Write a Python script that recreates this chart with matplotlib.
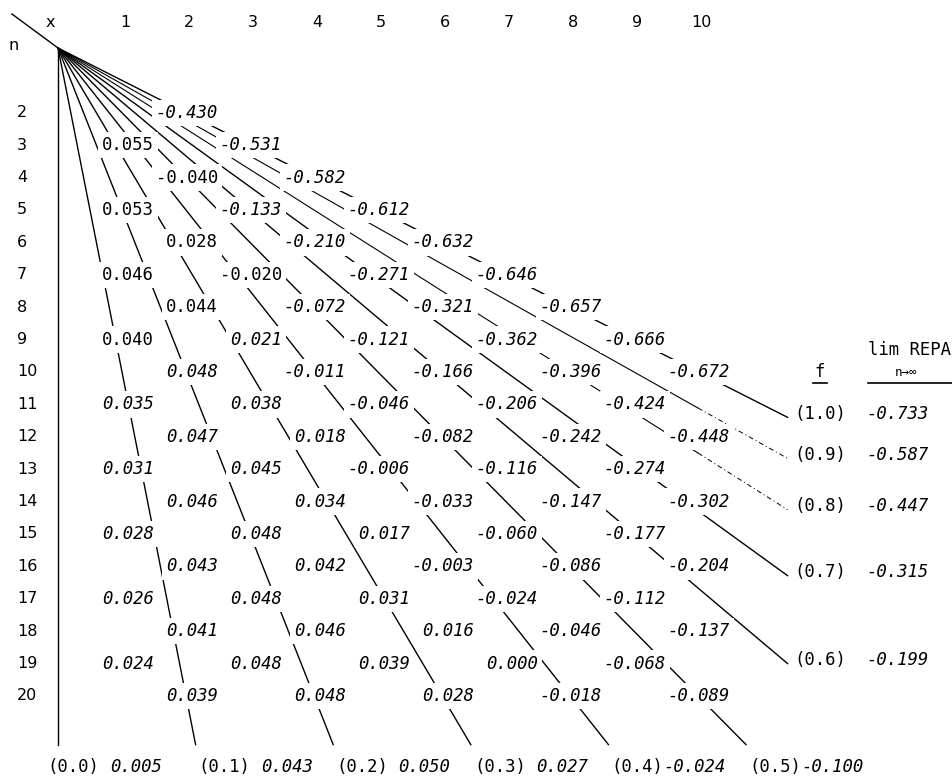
import numpy as np
import matplotlib.pyplot as plt

# REPA values, one list per row n; columns x start at 1 or 2 (same parity as n), step 2
rows = list(range(2, 21))
row_values = [
    [-0.430],
    [0.055, -0.531],
    [-0.040, -0.582],
    [0.053, -0.133, -0.612],
    [0.028, -0.210, -0.632],
    [0.046, -0.020, -0.271, -0.646],
    [0.044, -0.072, -0.321, -0.657],
    [0.040, 0.021, -0.121, -0.362, -0.666],
    [0.048, -0.011, -0.166, -0.396, -0.672],
    [0.035, 0.038, -0.046, -0.206, -0.424],
    [0.047, 0.018, -0.082, -0.242, -0.448],
    [0.031, 0.045, -0.006, -0.116, -0.274],
    [0.046, 0.034, -0.033, -0.147, -0.302],
    [0.028, 0.048, 0.017, -0.060, -0.177],
    [0.043, 0.042, -0.003, -0.086, -0.204],
    [0.026, 0.048, 0.031, -0.024, -0.112],
    [0.041, 0.046, 0.016, -0.046, -0.137],
    [0.024, 0.048, 0.039, 0.000, -0.068],
    [0.039, 0.048, 0.028, -0.018, -0.089],
]
upright_cells = [(3, 1), (4, 2), (5, 1), (6, 2), (7, 1), (7, 3), (8, 2), (9, 1)]

columns = list(range(1, 11))

# f lines ending at the bottom, and their limits
f_bottom = [0.0, 0.1, 0.2, 0.3, 0.4, 0.5]
lim_bottom = [0.005, 0.043, 0.050, 0.027, -0.024, -0.100]
# f lines ending at the right
f_right = [1.0, 0.9, 0.8, 0.7, 0.6]
lim_right = [-0.733, -0.587, -0.447, -0.315, -0.199]

# pixel layout: x=0 at 58px, 64px per column; n=0 at 48px, 32.4px per row
W, H = 952, 781
X0, SX, Y0, SY = 58, 64.0, 48, 32.4

fig = plt.figure(figsize=(W / 100, H / 100), dpi=100)
ax = fig.add_axes([0, 0, 1, 1])
ax.set_xlim(-X0 / SX, (W - X0) / SX)
ax.set_ylim((H - Y0) / SY, -Y0 / SY)
ax.axis('off')

FS = 12.4
MONO = ['DejaVu Sans Mono', 'DejaVu Sans']
charw = 0.602 * FS / 72 * 100 / SX
box = dict(facecolor='white', edgecolor='none', pad=3.0)
lw = 1.0

# rays from the origin
n_bottom = 21.5
for f in f_bottom:
    ax.plot([0, f * n_bottom], [0, n_bottom], color='black', lw=lw, zorder=1)

x_right = 11.4
for f in f_right:
    n_end = x_right / f
    if f in (0.9, 0.8):
        ax.plot([0, 10.0], [0, 10.0 / f], color='black', lw=lw * 0.8, zorder=1)
        ax.plot([10.0, x_right], [10.0 / f, n_end], color='black', lw=lw * 0.7,
                dashes=(5, 3, 1, 3), zorder=1)
    else:
        ax.plot([0, x_right], [0, n_end], color='black', lw=lw, zorder=1)

# corner diagonal
ax.plot([-0.72, 0], [-1.05, 0], color='black', lw=lw, zorder=1)

# headers
ax.text(-0.125, -0.8, 'x', fontsize=11.5, ha='center', va='center')
ax.text(-0.69, -0.09, 'n', fontsize=11.5, ha='center', va='center')
for c in columns:
    ax.text(c + 0.05, -0.8, str(c), fontsize=11.5, ha='center', va='center')
for n in rows:
    ax.text(-0.64, n, str(n), fontsize=11.5, ha='left', va='center')

# value cells
for n, vals in zip(rows, row_values):
    start = 2 if n % 2 == 0 else 1
    for k, v in enumerate(vals):
        x = start + 2 * k
        style = 'normal' if (n, x) in upright_cells else 'italic'
        ax.text(x + 0.5, n, f'{v:.3f}', family=MONO, fontsize=FS, style=style,
                ha='right', va='center', bbox=box, zorder=3)

# bottom labels
n_lab = 22.2
for f, v in zip(f_bottom, lim_bottom):
    x_start = f * n_bottom + (-0.16 if f == 0 else 0.05)
    ax.text(x_start, n_lab, f'({f:.1f})', family=MONO, fontsize=FS,
            ha='left', va='center')
    ax.text(x_start + 11 * charw, n_lab, f'{v:.3f}', family=MONO, fontsize=FS,
            style='italic', ha='right', va='center')

# right labels
for f, v in zip(f_right, lim_right):
    n_end = x_right / f - 0.1
    x_start = x_right + 0.1
    ax.text(x_start, n_end, f'({f:.1f})', family=MONO, fontsize=FS,
            ha='left', va='center')
    ax.text(x_start + 13 * charw, n_end, f'{v:.3f}', family=MONO, fontsize=FS,
            style='italic', ha='right', va='center')

# column titles on the right
ax.text(11.9, 10.0, 'f', family=MONO, fontsize=FS, ha='center', va='center')
ax.plot([11.8, 12.02], [10.34, 10.34], color='black', lw=1.2)
ax.text(12.66, 9.32, 'lim REPA', family=MONO, fontsize=FS, ha='left', va='center')
ax.text(13.25, 10.0, 'n→∞', family=MONO, fontsize=9, ha='center', va='center')
ax.plot([12.66, 13.97], [10.34, 10.34], color='black', lw=1.2)

fig.savefig('out.png', dpi=100)
